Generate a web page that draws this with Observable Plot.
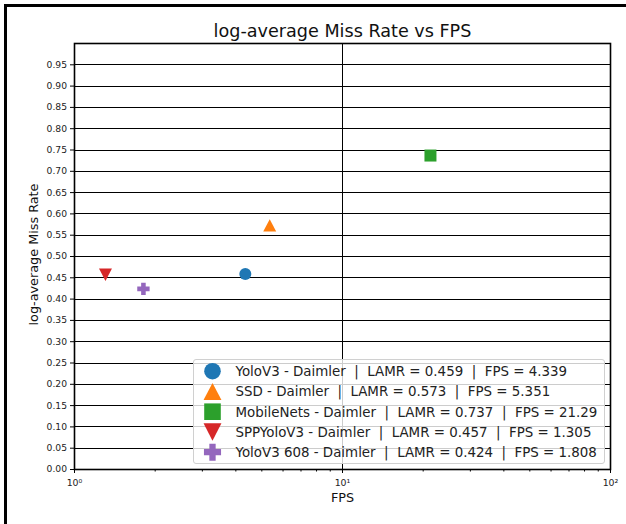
<!DOCTYPE html>
<html>
<head>
<meta charset="utf-8">
<script src="https://cdn.jsdelivr.net/npm/d3@7"></script>
<script src="https://cdn.jsdelivr.net/npm/@observablehq/plot@0.6"></script>
<style>
  html, body { margin: 0; padding: 0; background: #fff; }
  #wrap { position: relative; width: 626px; height: 524px; overflow: hidden; background: #fff; font-family: "DejaVu Sans", sans-serif; }
  #frame { position: absolute; left: 4px; top: 4px; right: -10px; bottom: -10px; border-left: 3px solid #000; border-top: 3px solid #000; pointer-events: none; }
  #chart { position: absolute; left: 0; top: 0; }
  #legend { position: absolute; left: 193px; top: 359px; width: 410px; height: 103px;
            border: 1px solid #d0d0d0; border-radius: 3px; background: rgba(255,255,255,0.8); }
  #legend svg { position: absolute; left: 0; top: 0; }
</style>
</head>
<body>
<div id="wrap">
  <div id="chart"></div>
  <div id="legend"></div>
  <div id="frame"></div>
</div>
<script>
// Detectors evaluated on the Daimler pedestrian set
const models = ["YoloV3", "SSD", "MobileNets", "SPPYoloV3", "YoloV3 608"];
const lamr = [0.459, 0.573, 0.737, 0.457, 0.424];
const fps = [4.339, 5.351, 21.29, 1.305, 1.808];
const colors = ["#1f77b4", "#ff7f0e", "#2ca02c", "#d62728", "#9467bd"];
const markerKinds = ["circle", "triangleUp", "square", "triangleDown", "plus"];
const yTickValues = [0.00, 0.05, 0.10, 0.15, 0.20, 0.25, 0.30, 0.35, 0.40, 0.45,
                     0.50, 0.55, 0.60, 0.65, 0.70, 0.75, 0.80, 0.85, 0.90, 0.95];
const xMajorTicks = [1, 10, 100];
const xMinorTicks = [2, 3, 4, 5, 6, 7, 8, 9, 20, 30, 40, 50, 60, 70, 80, 90];

// Marker shapes (size is the symbol area, as in d3.symbol)
const rad = size => Math.sqrt(size / Math.PI);
const shapes = {
  circle: { draw(c, s) { const r = rad(s); c.moveTo(r, 0); c.arc(0, 0, r, 0, 2 * Math.PI); } },
  square: { draw(c, s) { const r = rad(s); c.rect(-r, -r, 2 * r, 2 * r); } },
  triangleUp: { draw(c, s) { const r = rad(s), w = r * 1.08, h = r * 1.03;
    c.moveTo(0, -h); c.lineTo(w, h); c.lineTo(-w, h); c.closePath(); } },
  triangleDown: { draw(c, s) { const r = rad(s), w = r * 1.08, h = r * 1.05;
    c.moveTo(0, h); c.lineTo(w, -h); c.lineTo(-w, -h); c.closePath(); } },
  plus: { draw(c, s) { const r = rad(s), a = r * 1.03, t = r * 0.38;
    c.moveTo(-t, -a); c.lineTo(t, -a); c.lineTo(t, -t); c.lineTo(a, -t); c.lineTo(a, t);
    c.lineTo(t, t); c.lineTo(t, a); c.lineTo(-t, a); c.lineTo(-t, t); c.lineTo(-a, t);
    c.lineTo(-a, -t); c.lineTo(-t, -t); c.closePath(); } }
};

const rows = models.map((m, i) => ({
  name: `${m} - Daimler`,
  fps: fps[i], lamr: lamr[i]
}));
const names = rows.map(d => d.name);
const sup = ["\u2070", "\u00b9", "\u00b2"];

const chart = Plot.plot({
  width: 626,
  height: 524,
  marginLeft: 74,
  marginRight: 16,
  marginTop: 43,
  marginBottom: 55,
  style: { fontFamily: "DejaVu Sans", background: "transparent", color: "#222", overflow: "visible" },
  x: { type: "log", domain: [1, 100] },
  y: { domain: [0, 1] },
  color: { domain: names, range: colors },
  symbol: { domain: names, range: markerKinds.map(k => shapes[k]) },
  marks: [
    Plot.ruleY(yTickValues, { stroke: "#000", strokeWidth: 1, shapeRendering: "crispEdges" }),
    Plot.ruleX([10], { stroke: "#000", strokeWidth: 1, shapeRendering: "crispEdges" }),
    Plot.axisY(yTickValues, {
      tickSize: 4, tickPadding: 3.5, fontSize: 9.2, label: null,
      tickFormat: d => d.toFixed(2), stroke: "#000"
    }),
    Plot.axisX(xMinorTicks, { tickSize: 2.5, tickFormat: () => "", label: null, stroke: "#000" }),
    Plot.axisX(xMajorTicks, {
      tickSize: 4, tickPadding: 6, fontSize: 9.4, label: null, stroke: "#000",
      tickFormat: d => "10" + sup[Math.round(Math.log10(d))]
    }),
    Plot.frame({ stroke: "#000", strokeWidth: 1.6 }),
    Plot.dot(rows, {
      x: "fps", y: "lamr", fill: "name", symbol: "name", r: 6, stroke: "none"
    }),
    Plot.text(["log-average Miss Rate vs FPS"], {
      frameAnchor: "top", lineAnchor: "middle", dy: -12, fontSize: 17.6, fill: "#111"
    }),
    Plot.text(["FPS"], {
      frameAnchor: "bottom", lineAnchor: "middle", dy: 28, fontSize: 12.8, fill: "#111"
    }),
    Plot.text(["log-average Miss Rate"], {
      frameAnchor: "left", textAnchor: "middle", lineAnchor: "middle",
      dx: -41, dy: -2, rotate: -90, fontSize: 12.8, fill: "#111"
    })
  ]
});
document.getElementById("chart").appendChild(chart);

// Legend: one row per detector with its marker, LAMR and FPS
const legend = d3.select("#legend").append("svg")
  .attr("width", 410).attr("height", 103);
rows.forEach((d, i) => {
  const cy = 11.2 + i * 20.25;
  legend.append("path")
    .attr("transform", `translate(18.5,${cy})`)
    .attr("d", d3.symbol(shapes[markerKinds[i]], Math.PI * 8.3 * 8.3)())
    .attr("fill", colors[i]);
  legend.append("text")
    .attr("x", 41.5).attr("y", cy)
    .attr("dy", "0.36em")
    .attr("font-family", "DejaVu Sans")
    .attr("font-size", 13.4)
    .attr("fill", "#222")
    .attr("xml:space", "preserve")
    .style("white-space", "pre")
    .text(`${d.name}  |  LAMR = ${d.lamr.toFixed(3)}  |  FPS = ${d.fps >= 10 ? d.fps.toFixed(2) : d.fps.toFixed(3)}`);
});
</script>
</body>
</html>
